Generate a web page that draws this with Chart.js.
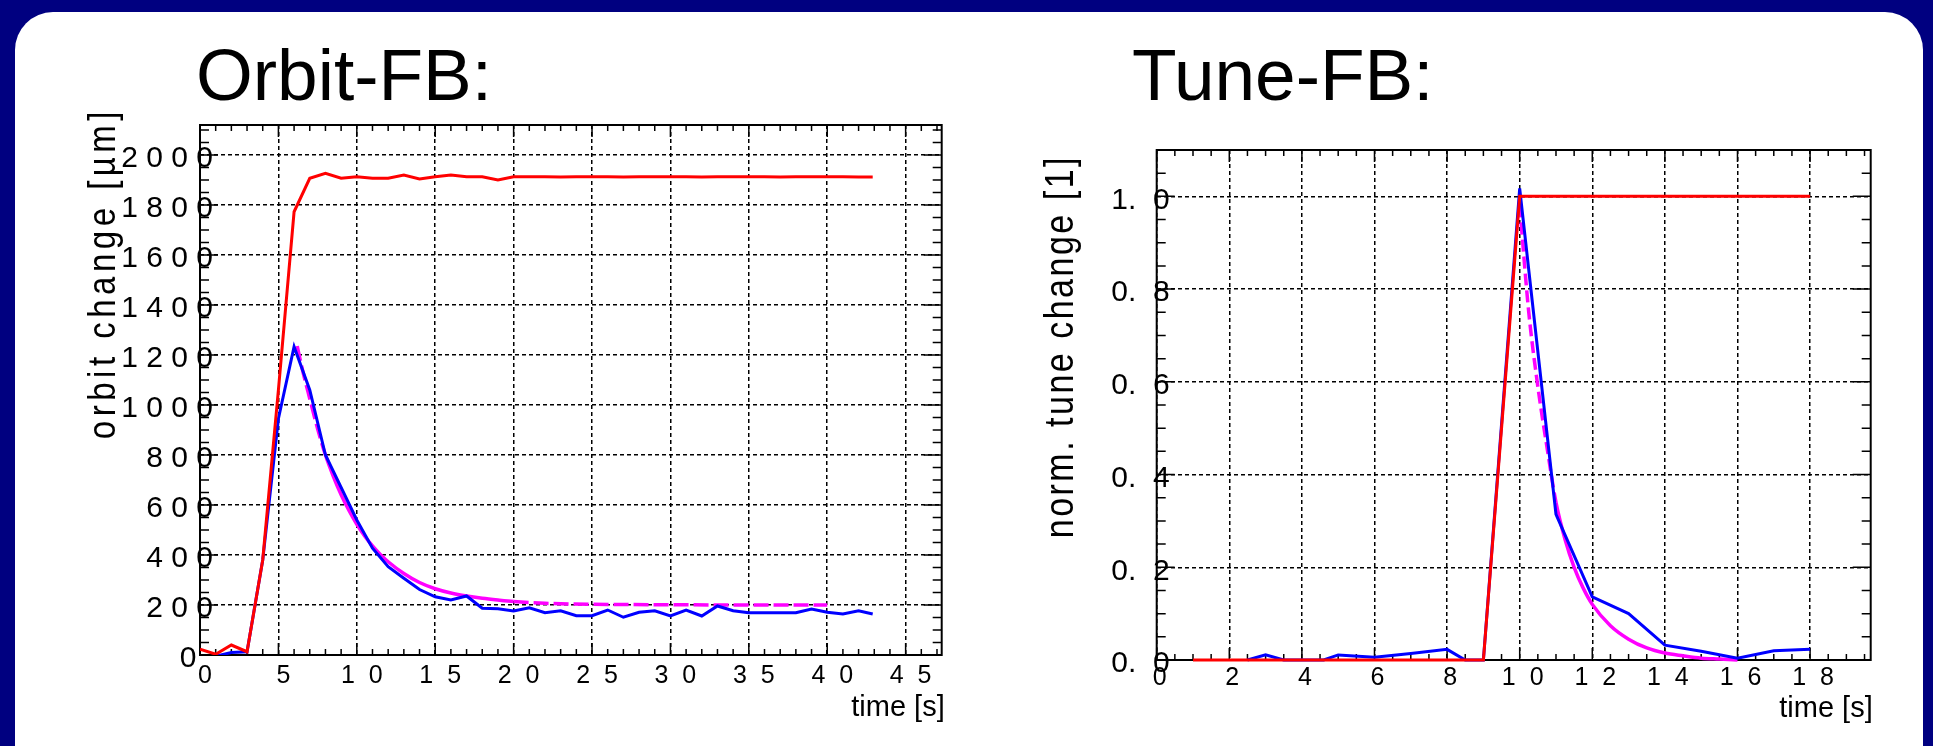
<!DOCTYPE html>
<html>
<head>
<meta charset="utf-8">
<script src="https://cdn.jsdelivr.net/npm/chart.js@4.4.1/dist/chart.umd.min.js"></script>
<style>
  html, body { margin: 0; padding: 0; width: 1933px; height: 746px; overflow: hidden; background: #000080; }
  #panel { position: absolute; left: 15px; top: 12px; width: 1908px; height: 790px; background: #fff; border-radius: 38px; }
  .head { position: absolute; top: 38px; font: 73px/73px 'Liberation Sans', Arial, sans-serif; color: #000; white-space: nowrap; }
  canvas { position: absolute; }
</style>
</head>
<body>
<div id="panel"></div>
<div class="head" style="left:196px">Orbit-FB:</div>
<div class="head" style="left:1132px">Tune-FB:</div>
<canvas id="orbitChart" width="940" height="646" style="left:40px;top:100px"></canvas>
<canvas id="tuneChart" width="920" height="646" style="left:1000px;top:100px"></canvas>
<script>
// orbit feedback: step response, time in s, orbit change in um
const orbitTime = [0, 1, 2, 3, 4, 5, 6, 7, 8, 9, 10, 11, 12, 13, 14, 15, 16, 17, 18, 19, 20, 21,
  22, 23, 24, 25, 26, 27, 28, 29, 30, 31, 32, 33, 34, 35, 36, 37, 38, 39, 40, 41, 42, 42.9];
const orbitRed = [23, 3, 40, 13, 380, 1060, 1773, 1907, 1927, 1907, 1913, 1907, 1907, 1920, 1904, 1913,
  1920, 1913, 1913, 1900, 1913, 1913, 1913, 1912, 1913, 1913, 1913, 1912, 1913, 1913, 1913, 1913,
  1912, 1913, 1913, 1913, 1913, 1912, 1913, 1913, 1913, 1913, 1912, 1912];
const orbitBlue = [-15, -5, 10, 13, 380, 945, 1233, 1060, 800, 670, 540, 427, 353, 307, 262, 233,
  220, 236, 187, 185, 176, 189, 169, 177, 157, 157, 180, 151, 171, 177, 156, 180, 156, 196, 177,
  169, 169, 169, 169, 184, 171, 164, 177, 164];
const orbitFitTime = [6.2, 6.5, 7, 7.5, 8, 8.5, 9, 9.5, 10, 10.5, 11, 11.5, 12, 13, 14, 15, 16, 17,
  18, 19, 20, 22, 25, 30, 35, 40];
const orbitFit = [1236, 1150, 1025, 905, 800, 715, 641, 578, 523, 476, 436, 402, 373, 326, 290, 265,
  248, 236, 227, 220, 214, 207, 203, 201, 200, 200];
const orbitXTicks = [0, 5, 10, 15, 20, 25, 30, 35, 40, 45];
const orbitXLabels = ['0', '5', '1  0', '1  5', '2  0', '2  5', '3  0', '3  5', '4  0', '4  5'];
const orbitYTicks = [0, 200, 400, 600, 800, 1000, 1200, 1400, 1600, 1800, 2000];
const orbitYLabels = ['0  ', '2 0 0', '4 0 0', '6 0 0', '8 0 0', '1 0 0 0', '1 2 0 0', '1 4 0 0',
  '1 6 0 0', '1 8 0 0', '2 0 0 0'];

// tune feedback: normalised tune change
const tuneRedTime = [1, 2, 3, 4, 5, 6, 7, 8, 9, 10, 11, 12, 13, 14, 15, 16, 17, 18];
const tuneRed = [0, 0, 0, 0, 0, 0, 0, 0, 0, 1, 1, 1, 1, 1, 1, 1, 1, 1];
const tuneBlueTime = [2.5, 3, 3.5, 4, 4.6, 5, 6, 7, 8, 8.5, 9, 10, 11, 12, 13, 14, 15, 16, 17, 18];
const tuneBlue = [0, 0.011, 0, 0, 0, 0.011, 0.006, 0.014, 0.023, 0, 0, 1.017, 0.314, 0.136, 0.1,
  0.032, 0.019, 0.004, 0.02, 0.023];
const tuneFitTime = [10, 10.25, 10.5, 10.75, 11, 11.25, 11.5, 11.75, 12, 12.5, 13, 13.5, 14, 14.5,
  15, 15.5, 16];
const tuneFit = [0.98, 0.75, 0.59, 0.46, 0.34, 0.26, 0.2, 0.155, 0.12, 0.074, 0.045, 0.026, 0.015,
  0.009, 0.004, 0.002, 0];
const tuneXTicks = [0, 2, 4, 6, 8, 10, 12, 14, 16, 18];
const tuneXLabels = ['0', '2', '4', '6', '8', '1  0', '1  2', '1  4', '1  6', '1  8'];
const tuneYTicks = [0, 0.2, 0.4, 0.6, 0.8, 1.0];
const tuneYLabels = ['0.  0', '0.  2', '0.  4', '0.  6', '0.  8', '1.  0'];

const FONT = "'Liberation Sans', Arial, sans-serif";
Chart.defaults.font.family = FONT;
Chart.defaults.color = '#000';

const pts = (xs, ys) => xs.map((x, i) => ({x: x, y: ys[i]}));

// ROOT style frame: box, inner ticks on all four sides, y labels over the axis, axis titles
const rootFrame = {
  id: 'rootFrame',
  beforeDatasetsDraw(chart, args, o) {
    const {ctx, chartArea: a} = chart;
    const sx = chart.scales.x, sy = chart.scales.y;
    const isMajor = (s, v) => s.ticks.some(t => Math.abs(t.value - v) < 1e-6);
    ctx.save();
    ctx.strokeStyle = '#000';
    ctx.lineWidth = 1.5;
    ctx.beginPath();
    for (let i = 0; i * o.xMinor <= sx.max + 1e-9; i++) {
      const v = i * o.xMinor, px = sx.getPixelForValue(v);
      const len = isMajor(sx, v) ? 12 : 6;
      ctx.moveTo(px, a.bottom); ctx.lineTo(px, a.bottom - len);
      ctx.moveTo(px, a.top); ctx.lineTo(px, a.top + len);
    }
    for (let i = 0; i * o.yMinor <= sy.max + 1e-9; i++) {
      const v = i * o.yMinor, py = sy.getPixelForValue(v);
      const len = isMajor(sy, v) ? 18 : 9;
      ctx.moveTo(a.left, py); ctx.lineTo(a.left + len, py);
      ctx.moveTo(a.right, py); ctx.lineTo(a.right - len, py);
    }
    ctx.stroke();
    ctx.lineWidth = 2;
    ctx.strokeRect(a.left, a.top, a.width, a.height);

    ctx.fillStyle = '#000';
    // y tick labels, last digit sits on the axis like in ROOT
    ctx.font = '30px ' + FONT;
    ctx.textAlign = 'right';
    ctx.textBaseline = 'middle';
    sy.ticks.forEach((t, i) => {
      ctx.fillText(o.yLabels[i], a.left + 13, sy.getPixelForValue(t.value) + 4);
    });

    ctx.save();
    ctx.translate(a.left + o.yTitleX, a.top + o.yTitleY);
    ctx.rotate(-Math.PI / 2);
    ctx.scale(1, 1.2);
    ctx.font = o.yTitleSize + 'px ' + FONT;
    ctx.letterSpacing = o.yTitleSpacing;
    ctx.textAlign = 'right';
    ctx.textBaseline = 'alphabetic';
    ctx.fillText(o.yTitle, 0, 0);
    ctx.restore();

    ctx.font = '29px ' + FONT;
    ctx.textAlign = 'right';
    ctx.textBaseline = 'alphabetic';
    ctx.fillText(o.xTitle, a.right + o.xTitleX, a.bottom + o.xTitleY);
    ctx.restore();
  }
};

function axis(min, max, ticks, labels, size, pad, offset, fit) {
  return {
    type: 'linear', min: min, max: max,
    afterBuildTicks: s => { s.ticks = ticks.map(v => ({value: v})); },
    afterFit: fit,
    grid: {color: '#000', lineWidth: 1.5, drawTicks: false},
    border: {display: false, dash: [4, 3]},
    ticks: {
      display: labels !== null,
      autoSkip: false, maxRotation: 0, minRotation: 0,
      padding: pad, labelOffset: offset,
      font: {size: size}, color: '#000',
      callback: (v, i) => labels ? labels[i] : ''
    }
  };
}

new Chart(document.getElementById('orbitChart'), {
  type: 'line',
  data: {
    datasets: [
      {data: pts(orbitTime, orbitRed), borderColor: '#ff0000', borderWidth: 3},
      {data: pts(orbitTime, orbitBlue), borderColor: '#0000ff', borderWidth: 3},
      {data: pts(orbitFitTime, orbitFit), borderColor: '#ff00ff', borderWidth: 3.5,
        cubicInterpolationMode: 'monotone',
        segment: {borderDash: c => (c.p0.parsed.x < 8 || c.p0.parsed.x >= 20) ? [15, 5] : undefined}}
    ]
  },
  options: {
    responsive: false,
    animation: false,
    layout: {padding: {left: 0, top: 25, right: 38.3, bottom: 0}},
    elements: {point: {radius: 0}, line: {tension: 0}},
    plugins: {
      legend: {display: false},
      tooltip: {enabled: false},
      rootFrame: {xMinor: 1, yMinor: 50, yLabels: orbitYLabels,
        yTitle: 'orbit change [µm]', yTitleSize: 33, yTitleSpacing: '4.5px', yTitleX: -85, yTitleY: -18,
        xTitle: 'time [s]', xTitleX: 3, xTitleY: 61}
    },
    scales: {
      x: axis(0, 47.3, orbitXTicks, orbitXLabels, 25, 6, 5, s => { s.height = 91; }),
      y: axis(0, 2120, orbitYTicks, null, 30, 0, 0, s => { s.width = 160; })
    }
  },
  plugins: [rootFrame]
});

new Chart(document.getElementById('tuneChart'), {
  type: 'line',
  data: {
    datasets: [
      {data: pts(tuneRedTime, tuneRed), borderColor: '#ff0000', borderWidth: 3, clip: false},
      {data: pts(tuneBlueTime, tuneBlue), borderColor: '#0000ff', borderWidth: 3, clip: false},
      {data: pts(tuneFitTime, tuneFit), borderColor: '#ff00ff', borderWidth: 3.5, clip: false,
        cubicInterpolationMode: 'monotone',
        segment: {borderDash: c => c.p0.parsed.x < 11 ? [12, 5] : undefined}}
    ]
  },
  options: {
    responsive: false,
    animation: false,
    layout: {padding: {left: 0, top: 50, right: 49.3, bottom: 0}},
    elements: {point: {radius: 0}, line: {tension: 0}},
    plugins: {
      legend: {display: false},
      tooltip: {enabled: false},
      rootFrame: {xMinor: 0.5, yMinor: 0.05, yLabels: tuneYLabels,
        yTitle: 'norm. tune change [1]', yTitleSize: 34, yTitleSpacing: '2.5px', yTitleX: -84, yTitleY: 5,
        xTitle: 'time [s]', xTitleX: 2, xTitleY: 57}
    },
    scales: {
      x: axis(0, 19.67, tuneXTicks, tuneXLabels, 25, 3, 3, s => { s.height = 86; }),
      y: axis(0, 1.1, tuneYTicks, null, 30, 0, 0, s => { s.width = 156.7; })
    }
  },
  plugins: [rootFrame]
});
</script>
</body>
</html>
